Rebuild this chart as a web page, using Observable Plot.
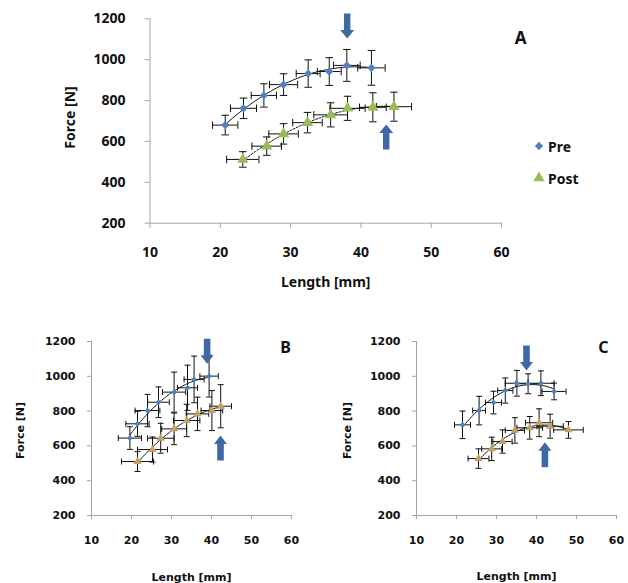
<!DOCTYPE html>
<html>
<head>
<meta charset="utf-8">
<script src="https://cdn.jsdelivr.net/npm/d3@7"></script>
<script src="https://cdn.jsdelivr.net/npm/@observablehq/plot@0.6"></script>
<style>
  html, body { margin: 0; padding: 0; background: white; }
  #root { position: relative; width: 628px; height: 583px; background: white; overflow: hidden; }
  .panel { position: absolute; }
  .legend { position: absolute; left: 533px; top: 130px; font-family: "Noto Sans", sans-serif; font-weight: bold; font-size: 14px; color: #111; }
  .legend div { display: flex; align-items: center; height: 32px; }
  .legend svg { margin-right: 3px; }
</style>
</head>
<body>
<div id="root"></div>
<script>
// ---------- data ----------
const seriesNames = ["Pre", "Post"];
const xTicks = [10, 20, 30, 40, 50, 60];
const yTicks = [200, 400, 600, 800, 1000, 1200];

// Panel A
const A_pre_len       = [20.7, 23.3, 26.2, 29.0, 32.5, 35.5, 38.0, 41.5];
const A_pre_force     = [680, 762, 825, 878, 932, 942, 972, 960];
const A_pre_len_err   = [1.8, 1.85, 1.8, 2.0, 1.7, 1.7, 1.9, 1.95];
const A_pre_force_err = [48, 50, 57, 53, 67, 68, 78, 85];
const A_post_len       = [23.2, 26.6, 29.0, 32.4, 35.7, 38.1, 41.7, 44.7];
const A_post_force     = [512, 577, 637, 692, 730, 762, 767, 770];
const A_post_len_err   = [2.3, 2.1, 2.1, 2.1, 2.4, 2.5, 1.9, 2.5];
const A_post_force_err = [38, 45, 50, 50, 59, 59, 71, 71];
const A_arrow_len   = [38.05, 43.6];
const A_arrow_force = [1104, 683];
const A_arrow_dir   = ["down", "up"];

// Panel B
const B_pre_len       = [19.6, 21.5, 24.0, 26.75, 30.65, 34.0, 35.65, 39.4];
const B_pre_force     = [645, 727, 803, 851, 909, 934, 982, 1001];
const B_pre_len_err   = [2.9, 2.9, 3.1, 2.7, 2.9, 2.5, 2.5, 2.3];
const B_pre_force_err = [65, 72, 93, 88, 115, 130, 134, 120];
const B_post_len       = [21.5, 25.25, 27.3, 30.65, 33.8, 36.5, 40.1, 42.3];
const B_post_force     = [510, 579, 644, 698, 746, 784, 803, 828];
const B_post_len_err   = [4.0, 3.75, 3.3, 3.1, 3.3, 2.8, 2.7, 2.7];
const B_post_force_err = [57, 72, 86, 91, 93, 96, 115, 124];
const B_arrow_len   = [38.9, 42.25];
const B_arrow_force = [1072, 660];
const B_arrow_dir   = ["down", "up"];

// Panel C
const C_pre_len       = [21.5, 25.65, 29.25, 32.2, 35.1, 37.9, 41.1, 44.4];
const C_pre_force     = [721, 803, 849, 918, 960, 957, 960, 913];
const C_pre_len_err   = [2.0, 1.6, 2.0, 1.9, 2.9, 3.1, 3.3, 3.0];
const C_pre_force_err = [79, 82, 65, 72, 74, 57, 71, 48];
const C_post_len       = [25.5, 28.8, 31.5, 34.6, 38.3, 40.65, 43.4, 48.0];
const C_post_force     = [527, 583, 625, 689, 704, 733, 713, 692];
const C_post_len_err   = [2.6, 2.5, 2.4, 2.4, 3.2, 3.4, 3.3, 3.7];
const C_post_force_err = [56, 67, 67, 73, 65, 80, 69, 48];
const C_arrow_len   = [37.5, 42.1];
const C_arrow_force = [1033, 621];
const C_arrow_dir   = ["down", "up"];

// ---------- helpers ----------
function rows(len, force, lenErr, forceErr) {
  return len.map((x, i) => ({x, y: force[i], ex: lenErr[i], ey: forceErr[i]}));
}
function quadFit(xs, ys) {
  let n = xs.length, s = [0,0,0,0,0], t = [0,0,0];
  for (let i = 0; i < n; i++) {
    const x = xs[i], y = ys[i];
    for (let k = 0; k < 5; k++) s[k] += Math.pow(x, k);
    for (let k = 0; k < 3; k++) t[k] += y * Math.pow(x, k);
  }
  const M = [[s[0], s[1], s[2], t[0]], [s[1], s[2], s[3], t[1]], [s[2], s[3], s[4], t[2]]];
  for (let c = 0; c < 3; c++) {
    for (let r = c + 1; r < 3; r++) {
      const f = M[r][c] / M[c][c];
      for (let k = c; k < 4; k++) M[r][k] -= f * M[c][k];
    }
  }
  const b = [0,0,0];
  for (let r = 2; r >= 0; r--) {
    let v = M[r][3];
    for (let k = r + 1; k < 3; k++) v -= M[r][k] * b[k];
    b[r] = v / M[r][r];
  }
  return b;
}
function fitCurve(xs, ys) {
  const b = quadFit(xs, ys);
  const x0 = d3.min(xs), x1 = d3.max(xs);
  return d3.range(61).map(i => {
    const x = x0 + (x1 - x0) * i / 60;
    return {x, y: b[0] + b[1] * x + b[2] * x * x};
  });
}
const hcap = w => ({draw(ctx) { ctx.moveTo(-w / 2, 0); ctx.lineTo(w / 2, 0); }});
const vcap = w => ({draw(ctx) { ctx.moveTo(0, -w / 2); ctx.lineTo(0, w / 2); }});
const blockArrow = (dir, L, hw, hh, sw) => ({draw(ctx) {
  const s = dir === "down" ? -1 : 1; // tip at origin
  ctx.moveTo(0, 0);
  ctx.lineTo(-hw, s * hh);
  ctx.lineTo(-sw, s * hh);
  ctx.lineTo(-sw, s * L);
  ctx.lineTo(sw, s * L);
  ctx.lineTo(sw, s * hh);
  ctx.lineTo(hw, s * hh);
  ctx.closePath();
}});

const panels = [
  {
    letter: "A", left: 0, top: 0, width: 628, height: 300,
    margin: {top: 18.3, right: 127, bottom: 77.3, left: 149.5},
    font: '"Noto Sans", sans-serif', fontSize: 14, tickSize: 5, xPad: 19, yPad: 19.5,
    xLabelDy: 59, yLabelDx: -79.5, yLabelDy: -3.5, letterDx: 19, letterDy: 20, letterSize: 17,
    pre: rows(A_pre_len, A_pre_force, A_pre_len_err, A_pre_force_err),
    post: rows(A_post_len, A_post_force, A_post_len_err, A_post_force_err),
    preXs: A_pre_len, preYs: A_pre_force, postXs: A_post_len, postYs: A_post_force,
    arrows: A_arrow_len.map((x, i) => ({x, y: A_arrow_force[i], dir: A_arrow_dir[i]})),
    preColor: "#4f81bd", postColor: "#9bbb59", preR: 3.7, postR: 4.2, cap: 7.5,
    postDash: "2,1.5", arrowHW: 7, arrowSW: 3.2
  },
  {
    letter: "B", left: 0, top: 300, width: 314, height: 283,
    margin: {top: 41, right: 23, bottom: 68, left: 91},
    font: '"DejaVu Sans", sans-serif', fontSize: 11, tickSize: 4, xPad: 17, yPad: 12,
    xLabelDy: 62, yLabelDx: -71, yLabelDy: 2, letterDx: -6, letterDy: 6, letterSize: 16,
    pre: rows(B_pre_len, B_pre_force, B_pre_len_err, B_pre_force_err),
    post: rows(B_post_len, B_post_force, B_post_len_err, B_post_force_err),
    preXs: B_pre_len, preYs: B_pre_force, postXs: B_post_len, postYs: B_post_force,
    arrows: B_arrow_len.map((x, i) => ({x, y: B_arrow_force[i], dir: B_arrow_dir[i]})),
    preColor: "#4f81bd", postColor: "#c4a064", preR: 2.7, postR: 3.1, cap: 6,
    postDash: null, arrowHW: 6.5, arrowSW: 3.3
  },
  {
    letter: "C", left: 314, top: 300, width: 314, height: 283,
    margin: {top: 41, right: 12, bottom: 68, left: 102},
    font: '"DejaVu Sans", sans-serif', fontSize: 11, tickSize: 4, xPad: 17, yPad: 12,
    xLabelDy: 61, yLabelDx: -69, yLabelDy: 2, letterDx: -13, letterDy: 6, letterSize: 16,
    pre: rows(C_pre_len, C_pre_force, C_pre_len_err, C_pre_force_err),
    post: rows(C_post_len, C_post_force, C_post_len_err, C_post_force_err),
    preXs: C_pre_len, preYs: C_pre_force, postXs: C_post_len, postYs: C_post_force,
    arrows: C_arrow_len.map((x, i) => ({x, y: C_arrow_force[i], dir: C_arrow_dir[i]})),
    preColor: "#4f81bd", postColor: "#c4a064", preR: 2.7, postR: 3.1, cap: 6,
    postDash: null, arrowHW: 6.5, arrowSW: 3.3
  }
];

const root = document.getElementById("root");
for (const p of panels) {
  const axisColor = "#a6a6a6";
  const errMarks = data => [
    Plot.ruleX(data, {x: "x", y1: d => d.y - d.ey, y2: d => d.y + d.ey, stroke: "#111", strokeWidth: 1}),
    Plot.ruleY(data, {y: "y", x1: d => d.x - d.ex, x2: d => d.x + d.ex, stroke: "#111", strokeWidth: 1}),
    Plot.dot(data, {x: "x", y: d => d.y - d.ey, symbol: hcap(p.cap), fill: "none", stroke: "#111", strokeWidth: 1}),
    Plot.dot(data, {x: "x", y: d => d.y + d.ey, symbol: hcap(p.cap), fill: "none", stroke: "#111", strokeWidth: 1}),
    Plot.dot(data, {x: d => d.x - d.ex, y: "y", symbol: vcap(p.cap), fill: "none", stroke: "#111", strokeWidth: 1}),
    Plot.dot(data, {x: d => d.x + d.ex, y: "y", symbol: vcap(p.cap), fill: "none", stroke: "#111", strokeWidth: 1})
  ];
  const chart = Plot.plot({
    width: p.width,
    height: p.height,
    marginTop: p.margin.top, marginRight: p.margin.right,
    marginBottom: p.margin.bottom, marginLeft: p.margin.left,
    style: {background: "transparent", fontFamily: p.font, fontSize: p.fontSize + "px", fontWeight: "bold", color: "#111", overflow: "visible"},
    x: {domain: [10, 60]},
    y: {domain: [200, 1200]},
    marks: [
      Plot.axisX(xTicks, {label: null, tickFormat: d => String(d), tickSize: p.tickSize, tickPadding: p.xPad, stroke: axisColor, fill: "#111", fontWeight: "bold"}),
      Plot.axisY(yTicks, {label: null, tickFormat: d => String(d), tickSize: p.tickSize, tickPadding: p.yPad, stroke: axisColor, fill: "#111", fontWeight: "bold"}),
      Plot.ruleY([200], {stroke: axisColor}),
      Plot.ruleX([10], {stroke: axisColor}),
      ...errMarks(p.pre),
      ...errMarks(p.post),
      Plot.line(fitCurve(p.preXs, p.preYs), {x: "x", y: "y", stroke: "#111", strokeWidth: 1, curve: "linear"}),
      Plot.line(fitCurve(p.postXs, p.postYs), {x: "x", y: "y", stroke: "#111", strokeWidth: 1, strokeDasharray: p.postDash}),
      Plot.dot(p.pre, {x: "x", y: "y", symbol: "diamond2", r: p.preR, fill: p.preColor, stroke: "none"}),
      Plot.dot(p.post, {x: "x", y: "y", symbol: "triangle", r: p.postR, fill: p.postColor, stroke: "none"}),
      ...p.arrows.map(a => Plot.dot([a], {x: "x", y: "y", symbol: blockArrow(a.dir, 25, p.arrowHW, 8.5, p.arrowSW), fill: "#3d6aa4", stroke: "none"})),
      Plot.text(["Length [mm]"], {frameAnchor: "bottom", dy: p.xLabelDy, textAnchor: "middle", lineAnchor: "middle", fontWeight: "bold", fill: "#111"}),
      Plot.text(["Force [N]"], {frameAnchor: "left", dx: p.yLabelDx, dy: p.yLabelDy, rotate: -90, textAnchor: "middle", lineAnchor: "middle", fontWeight: "bold", fill: "#111"}),
      Plot.text([p.letter], {frameAnchor: "top-right", dx: p.letterDx, dy: p.letterDy, textAnchor: "middle", lineAnchor: "middle", fontSize: p.letterSize, fontWeight: "bold", fontFamily: '"Noto Sans", sans-serif', fill: "#111"})
    ]
  });
  chart.classList.add("panel");
  chart.style.left = p.left + "px";
  chart.style.top = p.top + "px";
  root.appendChild(chart);
}

// legend for panel A
const legend = document.createElement("div");
legend.className = "legend";
const legendSymbols = [d3.symbolDiamond2, d3.symbolTriangle];
const legendColors = [panels[0].preColor, panels[0].postColor];
const legendSizes = [44, 55];
seriesNames.forEach((name, i) => {
  const row = document.createElement("div");
  const svg = d3.create("svg").attr("width", 12).attr("height", 12);
  svg.append("path").attr("transform", "translate(6,6)")
    .attr("d", d3.symbol(legendSymbols[i], legendSizes[i])())
    .attr("fill", legendColors[i]);
  row.appendChild(svg.node());
  const span = document.createElement("span");
  span.textContent = name;
  row.appendChild(span);
  legend.appendChild(row);
});
root.appendChild(legend);
</script>
</body>
</html>
